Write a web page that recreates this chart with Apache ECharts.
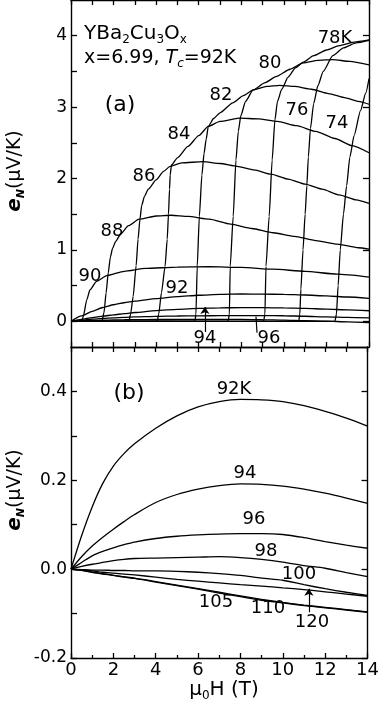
<!DOCTYPE html>
<html>
<head>
<meta charset="utf-8">
<script src="https://cdn.jsdelivr.net/npm/echarts@6/dist/echarts.min.js"></script>
<style>
html, body { margin: 0; padding: 0; background: #fff; }
#chart { width: 382px; height: 706px; }
</style>
</head>
<body>
<div id="chart"></div>
<script>
// panel (b): e_N (uV/K) vs field (T), one array per temperature
const fieldB = [0, 0.5, 1, 1.5, 2, 2.5, 3, 4, 5, 6, 7, 8, 9, 10, 11, 12, 13, 14];
const b92 = [0, 0.075, 0.14, 0.193, 0.232, 0.26, 0.282, 0.317, 0.345, 0.365, 0.377, 0.382, 0.381, 0.377, 0.368, 0.355, 0.34, 0.322];
const b94 = [0, 0.028, 0.052, 0.072, 0.09, 0.107, 0.123, 0.15, 0.168, 0.18, 0.188, 0.192, 0.191, 0.187, 0.18, 0.171, 0.16, 0.148];
const b96 = [0, 0.015, 0.03, 0.04, 0.048, 0.055, 0.061, 0.069, 0.074, 0.077, 0.079, 0.08, 0.08, 0.078, 0.071, 0.062, 0.054, 0.047];
const b98 = [0, 0.006, 0.011, 0.015, 0.019, 0.022, 0.024, 0.025, 0.026, 0.027, 0.028, 0.026, 0.022, 0.016, 0.008, 0.002, -0.008, -0.017];
const b100 = [0, -0.001, -0.002, -0.002, -0.003, -0.003, -0.004, -0.004, -0.005, -0.007, -0.01, -0.014, -0.02, -0.025, -0.035, -0.044, -0.052, -0.059];
const b105 = [0, -0.003, -0.007, -0.011, -0.014, -0.018, -0.021, -0.029, -0.037, -0.045, -0.054, -0.062, -0.07, -0.076, -0.082, -0.087, -0.092, -0.097];
const b110 = [0, -0.003, -0.007, -0.01, -0.014, -0.017, -0.02, -0.028, -0.036, -0.044, -0.052, -0.06, -0.068, -0.075, -0.081, -0.086, -0.091, -0.096];
const b120 = [0, -0.002, -0.004, -0.007, -0.009, -0.011, -0.013, -0.018, -0.023, -0.027, -0.031, -0.035, -0.038, -0.042, -0.046, -0.051, -0.056, -0.061];

// panel (a): [field, e_N] for the lower temperatures
const a90 = [[0,0],[0.5,0],[0.58,0.07],[0.74,0.3],[0.89,0.44],[1.2,0.56],[1.68,0.64],[2.5,0.7],[3.5,0.74],[5,0.76],[6.5,0.765],[8,0.755],[9.5,0.73],[11,0.7],[12.5,0.66],[14,0.62]];
const a88 = [[0,0],[1.45,0],[1.55,0.12],[1.65,0.4],[1.75,0.68],[1.85,0.9],[1.95,1.02],[2.1,1.12],[2.35,1.23],[2.7,1.34],[3.2,1.43],[4,1.475],[4.7,1.485],[5.5,1.47],[6.5,1.43],[7.5,1.36],[8.5,1.3],[9.5,1.24],[10.5,1.19],[11.5,1.13],[12.5,1.08],[13.5,1.03],[14,1.01]];
const a86 = [[0,0],[2.72,0],[2.8,0.1],[2.92,0.35],[3.06,0.78],[3.15,1.15],[3.24,1.43],[3.32,1.62],[3.45,1.75],[3.63,1.85],[4,1.98],[4.35,2.1],[4.65,2.17],[5.2,2.22],[6.2,2.235],[7,2.21],[7.8,2.17],[8.6,2.12],[9.4,2.06],[10.2,1.99],[11,1.92],[11.8,1.85],[12.6,1.77],[13.4,1.7],[14,1.65]];
const a84 = [[0,0],[4.05,0],[4.12,0.1],[4.25,0.4],[4.42,0.77],[4.52,1.15],[4.58,1.5],[4.63,1.85],[4.66,2.05],[4.72,2.19],[5,2.29],[5.5,2.45],[6,2.6],[6.45,2.73],[7,2.8],[7.9,2.845],[8.8,2.835],[9.7,2.8],[10.6,2.74],[11.5,2.66],[12.4,2.56],[13.2,2.46],[14,2.36]];
const a82 = [[0,0],[5.82,0],[5.87,0.1],[5.93,0.77],[6.03,1.47],[6.15,2.05],[6.25,2.35],[6.35,2.55],[6.45,2.73],[6.7,2.84],[7,2.92],[7.6,3.06],[8.1,3.16],[8.56,3.24],[9.2,3.29],[9.8,3.305],[10.5,3.29],[11.3,3.25],[12.1,3.19],[12.9,3.13],[13.5,3.08],[14,3.04]];
const a80 = [[0,0],[7.38,0],[7.44,0.1],[7.48,0.77],[7.62,1.47],[7.75,2.26],[7.86,2.66],[7.98,2.88],[8.2,3.08],[8.56,3.24],[9.1,3.34],[9.66,3.43],[10.29,3.53],[10.91,3.62],[11.6,3.655],[12.3,3.665],[13.1,3.64],[14,3.59]];
const a78 = [[0,0],[9.05,0],[9.11,0.1],[9.16,0.77],[9.31,1.47],[9.45,2.26],[9.58,2.82],[9.7,3.08],[9.9,3.25],[10.2,3.42],[10.55,3.55],[10.91,3.63],[11.4,3.72],[12,3.8],[12.6,3.86],[13.3,3.91],[14,3.94]];
const a76 = [[0,0],[10.7,0],[10.75,0.1],[10.8,0.45],[10.9,1.0],[11.0,1.5],[11.08,1.9],[11.15,2.3],[11.25,2.7],[11.4,3.05],[11.6,3.3],[11.85,3.5],[12.3,3.72],[12.8,3.83],[13.4,3.9],[14,3.935]];
const a74 = [[0,0],[12.4,0],[12.47,0.1],[12.55,0.5],[12.65,1.0],[12.8,1.5],[12.95,1.9],[13.1,2.3],[13.3,2.6],[13.6,2.95],[13.85,3.2],[14,3.4]];

const FONT = '"DejaVu Sans", sans-serif';
const BLACK = '#000';

function pairs(vals) {
  return fieldB.map((h, i) => [h, vals[i]]);
}

function curve(data, xi, yi, extra) {
  const s = {
    type: 'line',
    xAxisIndex: xi,
    yAxisIndex: yi,
    data: data,
    symbol: 'none',
    silent: true,
    smooth: xi === 0 ? 0.2 : 0.3,
    lineStyle: { color: BLACK, width: 1.3 },
  };
  if (xi === 0) s.smoothMonotone = 'x';
  return Object.assign(s, extra || {});
}

function arrow(from, to, head) {
  return {
    silent: true,
    symbol: head ? ['none', 'arrow'] : ['none', 'none'],
    symbolSize: 7,
    label: { show: false },
    lineStyle: { color: BLACK, width: 1.2, type: 'solid' },
    data: [[{ coord: from }, { coord: to }]],
  };
}

const tickStyle = { color: BLACK, width: 1.3 };
const lineStyleAxis = { show: true, onZero: false, lineStyle: { color: BLACK, width: 1.4 } };

function xAx(grid, pos, labels) {
  return {
    type: 'value', gridIndex: grid, position: pos,
    min: 0, max: 14, interval: labels ? 2 : 1,
    axisLine: lineStyleAxis,
    axisTick: { inside: true, length: 5, lineStyle: tickStyle },
    minorTick: labels ? { show: true, splitNumber: 2, length: 3, lineStyle: tickStyle } : { show: false },
    splitLine: { show: false },
    axisLabel: labels ? { show: true, margin: 3, color: BLACK, fontFamily: FONT, fontSize: 18 } : { show: false },
  };
}

function yAx(grid, pos, min, max, ticks, labels, fmt) {
  return {
    type: 'value', gridIndex: grid, position: pos,
    min: min, max: max,
    axisLine: lineStyleAxis,
    axisTick: { inside: true, length: 6, customValues: ticks, lineStyle: tickStyle },
    splitLine: { show: false },
    axisLabel: labels ? { show: true, customValues: labels, margin: 4, color: BLACK, fontFamily: FONT, fontSize: 17, formatter: fmt } : { show: false },
  };
}

const ticksA = [0, 0.5, 1, 1.5, 2, 2.5, 3, 3.5, 4];
const ticksB = [-0.2, -0.1, 0, 0.1, 0.2, 0.3, 0.4];

function label(text, x, y, size) {
  return {
    type: 'text', x: x, y: y, z: 10, silent: true,
    style: { text: text, fill: BLACK, font: (size || 18) + 'px ' + FONT, align: 'center', verticalAlign: 'middle' },
  };
}

function richText(text, x, y, rich, align, rotation) {
  return {
    type: 'text', x: x, y: y, z: 10, silent: true, rotation: rotation || 0,
    style: { text: text, fill: BLACK, fontFamily: FONT, align: align || 'center', verticalAlign: 'middle', rich: rich },
  };
}

const main20 = { fontSize: 20, fontFamily: FONT, lineHeight: 24 };
const sub12 = { fontSize: 12, fontFamily: FONT, lineHeight: 12, verticalAlign: 'bottom' };
const main19 = { fontSize: 19, fontFamily: FONT, lineHeight: 23 };

const yNameRich = {
  e: { fontSize: 20, fontFamily: FONT, fontStyle: 'italic', fontWeight: 'bold', lineHeight: 24 },
  n: { fontSize: 11, fontFamily: FONT, fontStyle: 'italic', fontWeight: 'bold', lineHeight: 11, verticalAlign: 'bottom' },
  m: { fontSize: 19, fontFamily: FONT, lineHeight: 24 },
};
const yNameText = '{e|e}{n|N}{m|(μV/K)}';

const option = {
  animation: false,
  backgroundColor: '#fff',
  grid: [
    { left: 71, top: 0, width: 298, height: 347, show: false },
    { left: 71, top: 347, width: 298, height: 311, show: false },
  ],
  xAxis: [
    xAx(0, 'bottom', false),
    xAx(0, 'top', false),
    xAx(1, 'bottom', true),
    xAx(1, 'top', false),
  ],
  yAxis: [
    yAx(0, 'left', -0.36, 4.5, ticksA, [0, 1, 2, 3, 4], v => String(v)),
    yAx(0, 'right', -0.36, 4.5, [0, 1, 2, 3, 4], null),
    yAx(1, 'left', -0.2, 0.5, ticksB, [-0.2, 0, 0.2, 0.4], v => v.toFixed(1)),
    yAx(1, 'right', -0.2, 0.5, [-0.2, 0, 0.2, 0.4], null),
  ],
  series: [
    curve(a90, 0, 0), curve(a88, 0, 0), curve(a86, 0, 0), curve(a84, 0, 0),
    curve(a82, 0, 0), curve(a80, 0, 0), curve(a78, 0, 0), curve(a76, 0, 0),
    curve(a74, 0, 0),
    curve(pairs(b92), 0, 0),
    curve(pairs(b94), 0, 0, { markLine: arrow([6.29, -0.15], [6.29, 0.2], true) }),
    curve(pairs(b96), 0, 0, { markLine: arrow([8.74, -0.16], [8.69, 0.065], false) }),
    curve(pairs(b98), 0, 0),
    curve(pairs(b92), 2, 2), curve(pairs(b94), 2, 2), curve(pairs(b96), 2, 2),
    curve(pairs(b98), 2, 2), curve(pairs(b100), 2, 2),
    curve(pairs(b105), 2, 2), curve(pairs(b110), 2, 2),
    curve(pairs(b120), 2, 2, { markLine: arrow([11.23, -0.097], [11.23, -0.044], true) }),
  ],
  graphic: [
    // panel (a) temperature labels
    label('78K', 335, 38), label('80', 270, 63), label('82', 221, 95),
    label('84', 179, 134), label('86', 144, 176), label('88', 112, 231),
    label('90', 90, 276), label('92', 177, 288), label('76', 297, 110),
    label('74', 337, 123), label('94', 205, 338), label('96', 269, 338),
    // panel (b) temperature labels
    label('92K', 234, 389), label('94', 245, 473), label('96', 254, 519),
    label('98', 266, 551), label('100', 299, 574), label('105', 216, 602),
    label('110', 268, 608), label('120', 312, 622),
    label('(a)', 120, 105, 22), label('(b)', 129, 393, 22),
    // sample description
    richText('{m|YBa}{s|2}{m|Cu}{s|3}{m|O}{s|x}', 84, 34, { m: main20, s: sub12 }, 'left'),
    richText('{m|x=6.99, }{i|T}{c|c}{m|=92K}', 84, 58, {
      m: main19,
      i: Object.assign({}, main19, { fontStyle: 'italic' }),
      c: Object.assign({}, sub12, { fontStyle: 'italic' }),
    }, 'left'),
    // axis names
    richText(yNameText, 15, 171, yNameRich, 'center', Math.PI / 2),
    richText(yNameText, 15, 490, yNameRich, 'center', Math.PI / 2),
    richText('{m|μ}{s|0}{m|H (T)}', 224, 690, {
      m: { fontSize: 20, fontFamily: FONT, lineHeight: 24 },
      s: { fontSize: 12, fontFamily: FONT, lineHeight: 12, verticalAlign: 'bottom' },
    }),
  ],
};

const chart = echarts.init(document.getElementById('chart'), null, { renderer: 'canvas' });
chart.setOption(option);
</script>
</body>
</html>
